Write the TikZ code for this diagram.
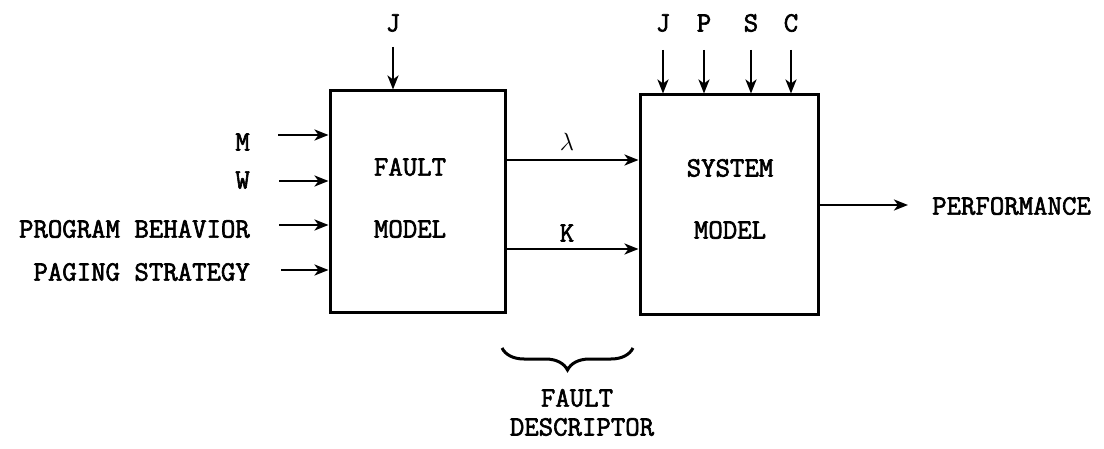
\documentclass[tikz,border=0pt]{standalone}
\usepackage{fontspec}
\setmainfont{Latin Modern Mono}[AutoFakeBold=2.2]
\usetikzlibrary{arrows.meta,decorations.pathreplacing}
\begin{document}
\begin{tikzpicture}[x=1pt,y=-1pt,
  every node/.style={font=\fontsize{28}{30}\selectfont\bfseries, inner sep=0pt},
  blk/.style={draw, line width=3pt},
  arr/.style={line width=2.6pt, -{Stealth[length=14pt,width=11pt,inset=4pt]}}]
\useasboundingbox (0,0) rectangle (1104,449);
% boxes
\node[blk, minimum width=175pt, minimum height=222pt] (fault) at (417.5,202) {};
\node[blk, minimum width=178pt, minimum height=220pt] (sys) at (729,205) {};
\node (ft1) at (410,167) {FAULT};
\node (ft2) at (410,229) {MODEL};
\node (st1) at (730,168) {SYSTEM};
\node (st2) at (730,230) {MODEL};
% left inputs
\node[anchor=east] (m) at (250,142) {M};
\node[anchor=east] (w) at (250,180) {W};
\node[anchor=east] (pb) at (250,229) {PROGRAM BEHAVIOR};
\node[anchor=east] (ps) at (250,272) {PAGING STRATEGY};
\coordinate (cm) at (278,135);
\coordinate (cw) at (279,181);
\coordinate (cpb) at (279,225);
\coordinate (cps) at (281,270);
\draw[arr] (cm) -- (fault.west |- cm);
\draw[arr] (cw) -- (fault.west |- cw);
\draw[arr] (cpb) -- (fault.west |- cpb);
\draw[arr] (cps) -- (fault.west |- cps);
% top inputs
\node (j1) at (393,23) {J};
\coordinate (cj1) at (393,47);
\draw[arr] (cj1) -- (fault.north -| cj1);
\node (j2) at (663,23) {J};
\node (p) at (704,23) {P};
\node (s) at (751,23) {S};
\node (c) at (791,23) {C};
\coordinate (cj2) at (663,50);
\coordinate (cp) at (704,50);
\coordinate (cs) at (751,50);
\coordinate (cc) at (791,50);
\draw[arr] (cj2) -- (sys.north -| cj2);
\draw[arr] (cp) -- (sys.north -| cp);
\draw[arr] (cs) -- (sys.north -| cs);
\draw[arr] (cc) -- (sys.north -| cc);
% middle connectors
\coordinate (cl) at (505,160);
\coordinate (ck) at (505,249);
\draw[arr] (fault.east |- cl) -- (sys.west |- cl);
\draw[arr] (fault.east |- ck) -- (sys.west |- ck);
\node (lam) at (567,142) {$\lambda$};
\node (k) at (567,233) {K};
% output
\node[anchor=west] (perf) at (932,206) {PERFORMANCE};
\coordinate (cperf) at (908,205);
\draw[arr] (sys.east |- cperf) -- (cperf);
% brace
\coordinate (b1) at (502,348);
\coordinate (b2) at (633,348);
\draw[line width=3pt, decorate, decoration={brace, amplitude=22pt, mirror}] (b1) -- (b2);
\node (fd1) at (577,398) {FAULT};
\node (fd2) at (582,427) {DESCRIPTOR};
\end{tikzpicture}
\end{document}
